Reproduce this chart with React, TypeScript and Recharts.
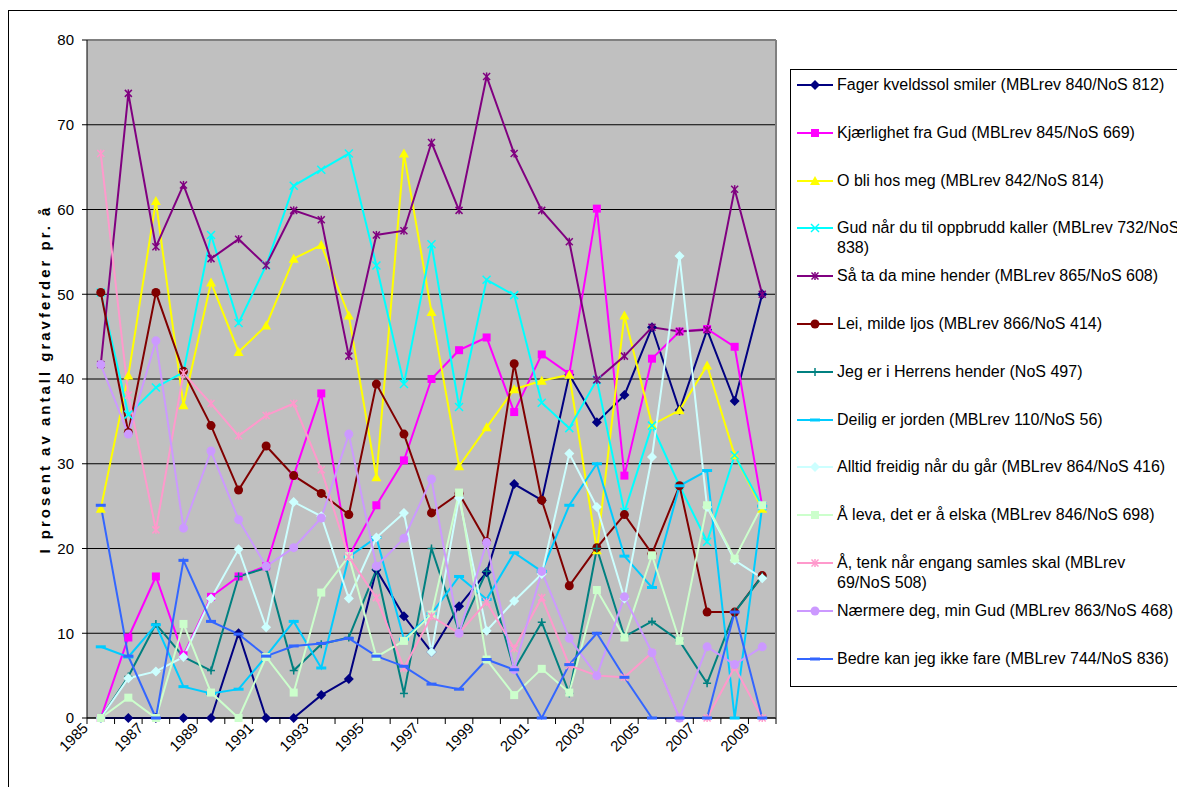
import React from 'react';
import { LineChart, Line, XAxis, YAxis, CartesianGrid, ReferenceLine } from 'recharts';

const years = [1985, 1986, 1987, 1988, 1989, 1990, 1991, 1992, 1993, 1994, 1995, 1996, 1997, 1998, 1999, 2000, 2001, 2002, 2003, 2004, 2005, 2006, 2007, 2008, 2009];
const labelYears = [1985, 1987, 1989, 1991, 1993, 1995, 1997, 1999, 2001, 2003, 2005, 2007, 2009];
const yTicks = [0, 10, 20, 30, 40, 50, 60, 70, 80];

const fager = [0, 0, 0, 0, 0, 10, 0, 0, 2.7, 4.6, 17.5, 12.0, 7.8, 13.2, 17.2, 27.6, 25.7, 40.5, 34.9, 38.1, 46.1, 36.3, 45.8, 37.4, 50.0];
const kjaerlighet = [0, 9.5, 16.7, 7.4, 14.3, 16.7, 17.9, 28.6, 38.3, 19.1, 25.1, 30.4, 40.0, 43.4, 44.9, 36.1, 42.9, 40.6, 60.1, 28.6, 42.4, 45.6, 45.9, 43.8, 25.0];
const oBli = [24.7, 40.4, 61.0, 36.9, 51.4, 43.2, 46.3, 54.2, 55.8, 47.5, 28.4, 66.6, 47.9, 29.7, 34.3, 38.8, 39.8, 40.5, 19.8, 47.5, 34.6, 36.3, 41.6, 31.0, 24.7];
const gudNaar = [50.2, 35.8, 39.0, 40.8, 57.0, 46.6, 53.4, 62.8, 64.7, 66.6, 53.4, 39.4, 55.9, 36.7, 51.7, 49.9, 37.2, 34.2, 39.9, 24.3, 34.5, 27.4, 20.8, 31.0, 25.0];
const saTa = [41.7, 73.7, 55.6, 62.9, 54.2, 56.5, 53.4, 59.9, 58.8, 42.7, 57.0, 57.5, 67.9, 59.9, 75.7, 66.6, 59.9, 56.2, 39.9, 42.7, 46.1, 45.6, 45.8, 62.4, 50.0];
const leiMilde = [50.2, 33.7, 50.2, 40.9, 34.5, 26.9, 32.1, 28.6, 26.5, 24.0, 39.4, 33.5, 24.2, 26.5, 20.8, 41.8, 25.7, 15.6, 20.1, 24.0, 19.4, 27.4, 12.5, 12.5, 16.8];
const jegEr = [0, 4.9, 11.1, 7.2, 5.6, 16.7, 17.7, 5.6, 8.7, 9.5, 17.5, 2.9, 20.0, 10.2, 17.3, 5.7, 11.3, 2.9, 20.0, 9.6, 11.4, 9.1, 4.1, 12.5, 16.7];
const deilig = [8.4, 7.2, 11.0, 3.7, 2.9, 3.4, 7.3, 11.4, 5.9, 19.0, 21.3, 9.3, 12.3, 16.7, 14.0, 19.5, 17.3, 25.1, 30.0, 19.1, 15.4, 27.4, 29.2, 0, 25.0];
const alltid = [0, 4.7, 5.5, 7.2, 14.1, 19.9, 10.7, 25.5, 23.8, 14.1, 21.3, 24.2, 7.8, 26.0, 10.3, 13.8, 17.0, 31.2, 24.9, 14.1, 30.8, 54.5, 24.9, 18.6, 16.5];
const aLeva = [0, 2.4, 0, 11.1, 3.0, 0, 7.2, 3.0, 14.8, 19.1, 7.2, 9.1, 12.2, 26.6, 6.9, 2.7, 5.8, 3.0, 15.1, 9.5, 19.2, 9.1, 25.1, 18.8, 25.1];
const aTenk = [66.6, 38.1, 22.2, 40.7, 37.1, 33.3, 35.7, 37.1, 29.3, 19.0, 14.2, 5.9, 12.0, 10.0, 13.7, 8.2, 14.2, 6.2, 5.0, 4.8, 7.7, 0, 0, 6.0, 0];
const naermere = [41.7, 33.5, 44.5, 22.4, 31.5, 23.4, 17.9, 20.1, 23.6, 33.5, 17.9, 21.2, 28.2, 10.0, 20.7, 5.7, 17.3, 9.4, 5.0, 14.3, 7.7, 0, 8.4, 6.3, 8.4];
const bedre = [25.1, 7.3, 0, 18.6, 11.4, 9.9, 7.3, 8.5, 8.8, 9.4, 7.3, 6.1, 4.0, 3.4, 6.9, 5.7, 0, 6.3, 10.0, 4.8, 0, 0, 0, 12.5, 0];

const series = [
  { key: 'fager', values: fager, color: '#000080', shape: 'diamond', name: 'Fager kveldssol smiler (MBLrev 840/NoS 812)' },
  { key: 'kjaerlighet', values: kjaerlighet, color: '#FF00FF', shape: 'square', name: 'Kjærlighet fra Gud (MBLrev 845/NoS 669)' },
  { key: 'oBli', values: oBli, color: '#FFFF00', shape: 'triangle', name: 'O bli hos meg (MBLrev 842/NoS 814)' },
  { key: 'gudNaar', values: gudNaar, color: '#00FFFF', shape: 'x', name: 'Gud når du til oppbrudd kaller (MBLrev 732/NoS\n838)' },
  { key: 'saTa', values: saTa, color: '#800080', shape: 'star', name: 'Så ta da mine hender (MBLrev 865/NoS 608)' },
  { key: 'leiMilde', values: leiMilde, color: '#800000', shape: 'circle', name: 'Lei, milde ljos (MBLrev 866/NoS 414)' },
  { key: 'jegEr', values: jegEr, color: '#008080', shape: 'plus', name: 'Jeg er i Herrens hender (NoS 497)' },
  { key: 'deilig', values: deilig, color: '#00CCFF', shape: 'dash', name: 'Deilig er jorden (MBLrev 110/NoS 56)' },
  { key: 'alltid', values: alltid, color: '#CCFFFF', shape: 'diamond', name: 'Alltid freidig når du går (MBLrev 864/NoS 416)' },
  { key: 'aLeva', values: aLeva, color: '#CCFFCC', shape: 'square', name: 'Å leva, det er å elska (MBLrev 846/NoS 698)' },
  { key: 'aTenk', values: aTenk, color: '#FF99CC', shape: 'star', name: 'Å, tenk når engang samles skal (MBLrev\n69/NoS 508)' },
  { key: 'naermere', values: naermere, color: '#CC99FF', shape: 'circle', name: 'Nærmere deg, min Gud (MBLrev 863/NoS 468)' },
  { key: 'bedre', values: bedre, color: '#3366FF', shape: 'dash', name: 'Bedre kan jeg ikke fare (MBLrev 744/NoS 836)' },
];

const data = years.map((year, i) => {
  const row: Record<string, number> = { year };
  series.forEach((s) => { row[s.key] = s.values[i]; });
  return row;
});

// tick marks sit between the years; the label goes on the tick just before an odd year
const bounds = [...years.map((y) => y - 0.5), years[years.length - 1] + 0.5];
const FONT = '"Liberation Sans", Arial, sans-serif';

function Marker({ cx, cy, shape, color }: { cx: number; cy: number; shape: string; color: string }) {
  switch (shape) {
    case 'diamond':
      return <polygon points={`${cx},${cy - 5} ${cx + 5},${cy} ${cx},${cy + 5} ${cx - 5},${cy}`} fill={color} />;
    case 'square':
      return <rect x={cx - 4} y={cy - 4} width={8} height={8} fill={color} />;
    case 'triangle':
      return <polygon points={`${cx},${cy - 5} ${cx + 5},${cy + 4} ${cx - 5},${cy + 4}`} fill={color} />;
    case 'x':
      return (
        <g stroke={color} strokeWidth={1.5}>
          <line x1={cx - 4} y1={cy - 4} x2={cx + 4} y2={cy + 4} />
          <line x1={cx - 4} y1={cy + 4} x2={cx + 4} y2={cy - 4} />
        </g>
      );
    case 'star':
      return (
        <g stroke={color} strokeWidth={1.5}>
          <line x1={cx - 3.5} y1={cy - 3.5} x2={cx + 3.5} y2={cy + 3.5} />
          <line x1={cx - 3.5} y1={cy + 3.5} x2={cx + 3.5} y2={cy - 3.5} />
          <line x1={cx} y1={cy - 4} x2={cx} y2={cy + 4} />
        </g>
      );
    case 'circle':
      return <circle cx={cx} cy={cy} r={4.5} fill={color} />;
    case 'plus':
      return (
        <g stroke={color} strokeWidth={1.5}>
          <line x1={cx - 4} y1={cy} x2={cx + 4} y2={cy} />
          <line x1={cx} y1={cy - 4} x2={cx} y2={cy + 4} />
        </g>
      );
    case 'dash':
      return <rect x={cx - 5} y={cy - 1.5} width={10} height={3} fill={color} />;
    default:
      return null;
  }
}

const YearTick = ({ x, y, payload }: any) => {
  const year = payload.value + 0.5;
  if (!labelYears.includes(year)) return null;
  const tx = x + 2;
  const ty = y + 5;
  return (
    <text x={tx} y={ty} transform={`rotate(-45, ${tx}, ${ty})`} textAnchor="end" fontSize={15} fill="#000" fontFamily={FONT}>
      {year}
    </text>
  );
};

export default function App() {
  return (
    <div style={{ position: 'relative', width: 1177, height: 787, overflow: 'hidden', background: '#fff' }}>
      <style>{'body{margin:0;overflow:hidden}'}</style>
      <div style={{ position: 'absolute', left: 8, top: 10, width: 1300, height: 900, border: '1px solid #000' }} />
      <div style={{ position: 'absolute', left: 0, top: 0 }}>
        <LineChart width={1177} height={787} data={data} margin={{ top: 40, right: 401, bottom: 0, left: 27 }} style={{ fontFamily: FONT }}>
          <CartesianGrid vertical={false} stroke="#000" fill="#C0C0C0" />
          <XAxis
            dataKey="year"
            type="number"
            domain={[1984.5, 2009.5]}
            ticks={bounds}
            interval={0}
            tick={<YearTick />}
            tickSize={6}
            tickMargin={0}
            height={69}
            stroke="#000"
            tickLine={{ stroke: '#000' }}
            axisLine={{ stroke: '#000' }}
          />
          <YAxis
            domain={[0, 80]}
            ticks={yTicks}
            width={60}
            tickSize={5}
            tickMargin={8}
            stroke="#000"
            tick={{ fill: '#000', fontSize: 15, fontFamily: FONT }}
            label={{
              value: 'I prosent av antall gravferder  pr. å',
              angle: -90,
              position: 'insideLeft',
              offset: 18,
              style: { textAnchor: 'middle', fontWeight: 'bold', fontSize: 15, letterSpacing: 3, fill: '#000', fontFamily: FONT },
            }}
          />
          <ReferenceLine y={80} stroke="#808080" strokeWidth={2} />
          <ReferenceLine x={2009.5} stroke="#808080" strokeWidth={2} />
          {series.map((s) => (
            <Line
              key={s.key}
              dataKey={s.key}
              name={s.name}
              type="linear"
              stroke={s.color}
              strokeWidth={2}
              isAnimationActive={false}
              activeDot={false}
              dot={(p: any) => <Marker key={`${s.key}-${p.index}`} cx={p.cx} cy={p.cy} shape={s.shape} color={s.color} />}
            />
          ))}
        </LineChart>
      </div>
      <div
        style={{
          position: 'absolute',
          left: 790,
          top: 69,
          width: 420,
          height: 618,
          border: '1px solid #000',
          background: '#fff',
          fontFamily: FONT,
          fontSize: 16,
          paddingTop: 5,
          boxSizing: 'border-box',
        }}
      >
        {series.map((s) => (
          <div key={s.key} style={{ position: 'relative', height: 47.8 }}>
            <svg width={38} height={20} style={{ position: 'absolute', left: 6, top: 0 }}>
              <line x1={0} y1={10} x2={36} y2={10} stroke={s.color} strokeWidth={2} />
              <Marker cx={18} cy={10} shape={s.shape} color={s.color} />
            </svg>
            <div style={{ position: 'absolute', left: 46, top: 0, lineHeight: '20px', whiteSpace: 'pre' }}>{s.name}</div>
          </div>
        ))}
      </div>
    </div>
  );
}
